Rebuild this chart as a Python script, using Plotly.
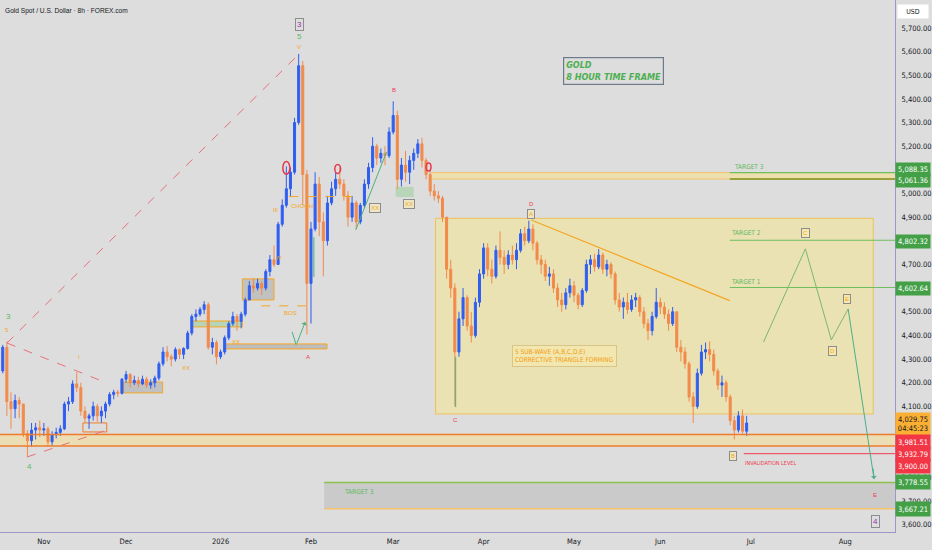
import math
import datetime as dt
import pandas as pd
import plotly.graph_objects as go

# ---------------- data (daily candles) ----------------
dates = pd.bdate_range("2025-10-20", "2026-06-30")
first_open = 4250
high = [4360, 4375, 4160, 4150, 4140, 4110, 4000, 4030, 4030, 4040,
        4030, 4015, 3995, 4010, 4020, 4120, 4140, 4210, 4245, 4200,
        4100, 4070, 4120, 4110, 4100, 4120, 4160, 4170, 4170, 4220,
        4250, 4240, 4230, 4225, 4230, 4225, 4215, 4230, 4290, 4350,
        4355, 4320, 4350, 4345, 4350, 4420, 4490, 4510, 4520, 4545,
        4540, 4390, 4380, 4340, 4400, 4460, 4500, 4490, 4500, 4560,
        4630, 4640, 4640, 4630, 4680, 4740, 4780, 4880, 4975, 5115,
        5110, 5320, 5590, 5560, 5100, 4880, 5090, 5070, 4920, 4990,
        5050, 5090, 5110, 5060, 5010, 4990, 4970, 4960, 5060, 5130,
        5238, 5210, 5190, 5200, 5280, 5390, 5350, 5150, 5180, 5160,
        5190, 5230, 5235, 5150, 5100, 5040, 5010, 4990, 4900, 4720,
        4620, 4500, 4600, 4570, 4500, 4560, 4680, 4790, 4790, 4720,
        4780, 4840, 4760, 4760, 4780, 4790, 4850, 4860, 4885, 4870,
        4800, 4740, 4720, 4690, 4680, 4620, 4580, 4600, 4640, 4630,
        4580, 4600, 4720, 4740, 4745, 4765, 4750, 4720, 4710, 4670,
        4580, 4560, 4580, 4570, 4580, 4570, 4520, 4470, 4500, 4600,
        4560, 4540, 4510, 4520, 4500, 4380, 4350, 4290, 4160, 4260,
        4360, 4370, 4375, 4340, 4260, 4230, 4210, 4150, 4060, 4080,
        4087, 4060]
low = [4240, 4060, 4005, 4050, 4050, 3970, 3888, 3930, 3960, 3970,
       3975, 3930, 3935, 3965, 3975, 4000, 4080, 4110, 4160, 4060,
       4030, 4005, 4040, 4035, 4030, 4050, 4100, 4130, 4140, 4150,
       4200, 4180, 4190, 4180, 4190, 4180, 4175, 4180, 4210, 4270,
       4290, 4270, 4290, 4300, 4300, 4340, 4400, 4460, 4480, 4490,
       4340, 4320, 4278, 4300, 4320, 4380, 4440, 4420, 4430, 4480,
       4550, 4580, 4590, 4570, 4590, 4650, 4690, 4700, 4860, 4940,
       4985, 5080, 5290, 4950, 4404, 4450, 4840, 4820, 4650, 4780,
       4950, 4990, 5020, 4970, 4860, 4880, 4850, 4870, 4940, 5020,
       5090, 5120, 5130, 5120, 5150, 5250, 5020, 5030, 5050, 5040,
       5100, 5150, 5110, 5060, 4990, 4970, 4960, 4880, 4640, 4560,
       4100, 4310, 4440, 4420, 4370, 4390, 4520, 4640, 4650, 4620,
       4640, 4700, 4660, 4680, 4700, 4680, 4750, 4780, 4790, 4760,
       4700, 4660, 4630, 4610, 4580, 4520, 4500, 4510, 4560, 4540,
       4510, 4520, 4580, 4660, 4670, 4680, 4660, 4650, 4640, 4530,
       4500, 4470, 4490, 4500, 4520, 4480, 4430, 4380, 4400, 4470,
       4490, 4470, 4420, 4440, 4330, 4290, 4260, 4120, 4030, 4090,
       4230, 4300, 4290, 4230, 4170, 4140, 4120, 4020, 3960, 3990,
       3985, 3975]
close = [4350, 4120, 4090, 4125, 4110, 3985, 3955, 4000, 4010, 4000,
         4005, 3950, 3980, 3990, 4005, 4110, 4120, 4195, 4180, 4080,
         4050, 4060, 4100, 4060, 4080, 4110, 4150, 4160, 4155, 4215,
         4235, 4200, 4210, 4195, 4215, 4190, 4200, 4220, 4280, 4330,
         4310, 4300, 4340, 4320, 4345, 4410, 4480, 4490, 4510, 4530,
         4350, 4370, 4310, 4330, 4390, 4450, 4480, 4460, 4490, 4550,
         4610, 4600, 4620, 4600, 4670, 4720, 4700, 4870, 4950, 5020,
         5090, 5300, 5540, 5080, 4620, 4850, 5040, 4880, 4800, 4960,
         5020, 5060, 5040, 4990, 4900, 4960, 4880, 4950, 5040, 5110,
         5200, 5150, 5170, 5160, 5260, 5330, 5060, 5120, 5090, 5140,
         5170, 5210, 5140, 5080, 5010, 4990, 4980, 4900, 4680, 4600,
         4330, 4470, 4560, 4440, 4400, 4540, 4660, 4770, 4680, 4650,
         4760, 4730, 4700, 4740, 4720, 4760, 4830, 4800, 4850, 4790,
         4720, 4700, 4650, 4660, 4600, 4550, 4530, 4580, 4610, 4570,
         4530, 4590, 4700, 4720, 4690, 4740, 4680, 4700, 4660, 4550,
         4520, 4540, 4510, 4550, 4560, 4500, 4450, 4420, 4480, 4540,
         4520, 4490, 4450, 4500, 4350, 4330, 4280, 4140, 4100, 4240,
         4330, 4340, 4320, 4250, 4190, 4200, 4140, 4040, 4000, 4060,
         3995, 4029.75]
opens = [first_open] + close[:-1]

# levels drawn on the chart
target3_hi, target3_lo = 5088.35, 5061.36
target2 = 4802.32
target1 = 4602.64
zone_hi, zone_lo = 3981.51, 3932.79
invalidation = 3900.00
low_t3_hi, low_t3_lo = 3778.55, 3667.21
last_price = 4029.75

month_ticks = ["2025-11-03", "2025-12-01", "2026-01-01", "2026-02-02", "2026-03-02",
               "2026-04-01", "2026-05-01", "2026-06-01", "2026-07-01", "2026-08-03"]
month_text = ["Nov", "Dec", "2026", "Feb", "Mar", "Apr", "May", "Jun", "Jul", "Aug"]
price_ticks = [5700, 5600, 5500, 5400, 5300, 5200, 5000, 4900, 4700, 4500, 4400,
               4300, 4200, 4100, 3800, 3700, 3600]

assert len(dates) == len(high) == len(low) == len(close)

# ---------------- style ----------------
BG = "#dddddd"
UP = "#2f5ef0"
DN = "#f28a4a"
RED = "#ef3b4e"
ORANGE = "#f5a623"
GREEN = "#5cb860"
PURPLE = "#9c27b0"
AXIS = "#9b98c8"
NARROW = "Liberation Sans Narrow, DejaVu Sans Condensed, Arial Narrow, sans-serif"
SANS = "Liberation Sans, Arial, sans-serif"

BASE = dt.date(2025, 10, 20)


def tday(i):
    """trading-day index (float) -> timestamp string, weekends skipped"""
    k = math.floor(i)
    f = i - k
    d = BASE
    step = 1 if k >= 0 else -1
    n = abs(k)
    while n:
        d += dt.timedelta(days=step)
        if d.weekday() < 5:
            n -= 1
    t = dt.datetime(d.year, d.month, d.day) + dt.timedelta(hours=24 * f)
    return t.strftime("%Y-%m-%d %H:%M")


X0_I, X1_I = -0.67, 217.1
Y_RANGE = [3569, 5818]

fig = go.Figure(go.Candlestick(
    x=dates, open=opens, high=high, low=low, close=close,
    increasing=dict(line=dict(color=UP, width=1), fillcolor=UP),
    decreasing=dict(line=dict(color=DN, width=1), fillcolor=DN),
    whiskerwidth=0, hoverinfo="skip"))

shapes = []


def rect(i0, i1, p0, p1, fill, line="rgba(0,0,0,0)", lw=1, dash="solid", layer="below"):
    shapes.append(dict(type="rect", xref="x", yref="y", x0=tday(i0), x1=tday(i1), y0=p0, y1=p1,
                       fillcolor=fill, line=dict(color=line, width=lw, dash=dash), layer=layer))


def seg(i0, p0, i1, p1, color, w=1, dash="solid", layer="above"):
    shapes.append(dict(type="line", xref="x", yref="y", x0=tday(i0), x1=tday(i1), y0=p0, y1=p1,
                       line=dict(color=color, width=w, dash=dash), layer=layer))


def ellipse(ic, pc, di, dp, color):
    shapes.append(dict(type="circle", xref="x", yref="y", x0=tday(ic - di), x1=tday(ic + di),
                       y0=pc - dp, y1=pc + dp, line=dict(color=color, width=1.5), layer="above"))


# big corrective-triangle zone
rect(105.3, 211.8, 4068, 4895, "rgba(255,235,110,0.38)", "rgba(240,190,80,0.9)", 1)
# support zone band across chart
rect(X0_I, X1_I, zone_lo, zone_hi, "rgba(255,225,130,0.45)")
seg(X0_I, zone_hi, X1_I, zone_hi, "#f07b2a", 1.5)
seg(X0_I, zone_lo, X1_I, zone_lo, "#f07b2a", 1.5)
# upper target 3 band
rect(104.3, X1_I, target3_lo, target3_hi, "rgba(255,225,130,0.5)")
seg(104.3, target3_hi, X1_I, target3_hi, "#f5c46a", 1)
seg(104.3, target3_lo, X1_I, target3_lo, "#f5c46a", 1)
seg(176.9, target3_hi, X1_I, target3_hi, "#6fbf5f", 1.2)
seg(176.9, target3_lo, X1_I, target3_lo, "#9aa23a", 2)
# targets 2 and 1
seg(176.9, target2, X1_I, target2, "#6fbf5f", 1)
seg(176.9, target1, X1_I, target1, "#6fbf5f", 1)
# invalidation
seg(180.3, invalidation, X1_I, invalidation, RED, 1)
# lower target 3 box
rect(78.2, X1_I, low_t3_lo, low_t3_hi, "rgba(190,190,190,0.6)")
seg(78.2, low_t3_hi, X1_I, low_t3_hi, "#8bc34a", 1.5)
seg(78.2, low_t3_lo, X1_I, low_t3_lo, "#f5c46a", 1.5)

# left structure boxes
rect(29.4, 38.9, 4157, 4203, "rgba(140,140,140,0.35)", ORANGE, 1)
rect(58.3, 66.0, 4550, 4639, "rgba(140,140,140,0.35)", ORANGE, 1)
rect(53.9, 78.9, 4343, 4364, "rgba(150,150,150,0.45)", ORANGE, 1)
rect(45.9, 58.3, 4436, 4461, "rgba(150,205,150,0.55)", ORANGE, 1)
rect(95.6, 100.0, 4985, 5028, "rgba(150,205,150,0.5)", "rgba(0,0,0,0)")
rect(19.5, 25.3, 3992, 4030, "rgba(0,0,0,0)", "#f07b2a", 1)

# trendlines
seg(1.03, 4368, 72.1, 5590, "#e8707a", 1, "dash")
seg(1.03, 4368, 25.3, 4199, "#e8707a", 1, "dash")
seg(5.9, 3886, 25.3, 4000, "#e8707a", 1, "dash")
seg(62.9, 4525, 73.8, 4525, ORANGE, 1, "dash")
seg(69.7, 4987, 85.0, 4987, ORANGE, 1, "dash")
seg(85.9, 4846, 93.4, 5176, "#4cb27a", 1)
seg(75.7, 4816, 75.7, 4647, "#4cb27a", 1)
seg(110.2, 4309, 110.2, 4097, "#4cb27a", 1)
seg(128.6, 4888, 176.9, 4547, ORANGE, 1.2)
seg(70.4, 4415, 71.4, 4360, "#4cb27a", 1)
# projected path
seg(185.1, 4372, 195.3, 4766, "#7cb86a", 1)
seg(195.3, 4766, 201.6, 4381, "#7cb86a", 1)
seg(201.6, 4381, 205.7, 4512, "#7cb86a", 1)
seg(205.7, 4512, 212.0, 3793, "#4caf8a", 1)

ellipse(69.0, 5108, 0.85, 27, "#e53950")
ellipse(81.5, 5104, 0.7, 19, "#e53950")
ellipse(103.6, 5112, 0.6, 17, "#e53950")

annotations = []

# wave / structure labels: (index, price, text, colour, size, boxed)
labels = [
    (72.1, 5713, "3", PURPLE, 8, True),
    (72.1, 5663, "5", GREEN, 8, False),
    (72.1, 5621, "V", ORANGE, 6, False),
    (95.1, 5438, "B", RED, 6, False),
    (110.2, 4042, "C", RED, 6, False),
    (74.3, 4309, "A", RED, 6, False),
    (70.0, 4495, "BOS", ORANGE, 6, False),
    (72.8, 4947, "CHOCH", ORANGE, 6, False),
    (66.3, 4930, "III", ORANGE, 6, False),
    (67.2, 4727, "IV", ORANGE, 6, False),
    (56.8, 4372, "XX", ORANGE, 6, False),
    (90.5, 4939, "XX", ORANGE, 6, True),
    (98.8, 4956, "XX", ORANGE, 6, True),
    (44.7, 4262, "XX", ORANGE, 6, False),
    (18.5, 4309, "I", ORANGE, 6, False),
    (1.0, 4423, "5", ORANGE, 6, False),
    (1.3, 4478, "3", GREEN, 8, False),
    (6.4, 3844, "4", GREEN, 8, False),
    (128.6, 4956, "D", RED, 6, False),
    (128.6, 4913, "A", ORANGE, 6, True),
    (177.6, 3890, "B", ORANGE, 6, True),
    (195.3, 4833, "C", ORANGE, 6, True),
    (202.0, 4334, "D", ORANGE, 6, True),
    (205.5, 4554, "E", ORANGE, 6, True),
    (212.3, 3725, "E", RED, 6, False),
    (212.3, 3615, "4", PURPLE, 8, True),
]
for i, p, t, c, s, boxed in labels:
    a = dict(x=tday(i), y=p, xref="x", yref="y", text=t, showarrow=False,
             font=dict(family=SANS, size=s, color=c))
    if boxed:
        a.update(bordercolor="#8c8c8c", borderwidth=1, borderpad=1,
                 bgcolor="rgba(255,240,170,0.5)" if c == ORANGE else "rgba(0,0,0,0)")
    annotations.append(a)

texts = [
    (86.6, 3738, "TARGET 3", GREEN, 6.5),
    (181.5, 5112, "TARGET 3", GREEN, 6.5),
    (180.8, 4833, "TARGET 2", GREEN, 6.5),
    (180.8, 4626, "TARGET 1", GREEN, 6.5),
    (186.8, 3861, "INVALIDATION LEVEL", RED, 5.5),
]
for i, p, t, c, s in texts:
    annotations.append(dict(x=tday(i), y=p, xref="x", yref="y", text=t, showarrow=False,
                            font=dict(family=NARROW, size=s, color=c)))

# arrowheads
annotations.append(dict(x=tday(212.0), y=3793, xref="x", yref="y", text="", showarrow=True,
                        ax=-1, ay=-12, arrowhead=1, arrowsize=1, arrowwidth=1, arrowcolor="#4caf8a"))
annotations.append(dict(x=tday(73.6), y=4457, xref="x", yref="y", text="", showarrow=True,
                        ax=-9, ay=23, arrowhead=1, arrowsize=1, arrowwidth=1, arrowcolor="#4cb27a"))

# note boxes
annotations.append(dict(x=tday(136.6), y=4313, xref="x", yref="y", showarrow=False, align="left",
                        text="5 SUB-WAVE (A,B,C,D,E)<br>CORRECTIVE TRIANGLE FORMING",
                        font=dict(family=NARROW, size=6.5, color="#f39c12"),
                        bordercolor="#d9c58a", borderwidth=1, borderpad=2,
                        bgcolor="rgba(255,240,170,0.4)"))
annotations.append(dict(x=tday(148.5), y=5516, xref="x", yref="y", showarrow=False, align="left",
                        text="<b><i>GOLD<br>8 HOUR TIME FRAME</i></b>",
                        font=dict(family=NARROW, size=9, color="#4caf50"),
                        bordercolor="#6d7a8a", borderwidth=1.2, borderpad=2))

# title
annotations.append(dict(x=0, y=1, xref="paper", yref="paper", xanchor="left", yanchor="top",
                        xshift=3, yshift=-5, showarrow=False,
                        text="Gold Spot / U.S. Dollar · 8h · FOREX.com",
                        font=dict(family=SANS, size=6.6, color="#131722")))
# USD box
annotations.append(dict(x=1, y=1, xref="paper", yref="paper", xanchor="left", yanchor="top",
                        xshift=2, yshift=-4, showarrow=False, text="USD", width=28, height=11,
                        bgcolor="#ffffff", font=dict(family=NARROW, size=7, color="#131722")))

# price tags on axis: (price, text, background, font colour, yshift, height)
tags = [
    (target3_hi, f"{target3_hi:,.2f}", "#43a047", "white", 3, 11),
    (target3_lo, f"{target3_lo:,.2f}", "#43a047", "white", -2, 11),
    (target2, f"{target2:,.2f}", "#43a047", "white", -1, 11),
    (target1, f"{target1:,.2f}", "#43a047", "white", -1, 11),
    (last_price, f"{last_price:,.2f}<br>04:45:23", "#fbb034", "#131722", -1, 20),
    (zone_hi, f"{zone_hi:,.2f}", "#f23645", "white", -8, 12),
    (zone_lo, f"{zone_lo:,.2f}", "#f23645", "white", -8, 12),
    (invalidation, f"{invalidation:,.2f}", "#f23645", "white", -12, 12),
    (low_t3_hi, f"{low_t3_hi:,.2f}", "#43a047", "white", 0, 12),
    (low_t3_lo, f"{low_t3_lo:,.2f}", "#43a047", "white", 0, 12),
]
for p, t, bg, fc, ys, h in tags:
    annotations.append(dict(x=1, y=p, xref="paper", yref="y", xanchor="left", yanchor="middle",
                            xshift=0, yshift=ys, showarrow=False, text=t, width=32, height=h,
                            bgcolor=bg, font=dict(family=NARROW, size=7.5, color=fc)))

fig.update_layout(
    width=932, height=550,
    margin=dict(l=0, r=34, t=0, b=18),
    paper_bgcolor=BG, plot_bgcolor=BG,
    showlegend=False, hovermode=False,
    shapes=shapes, annotations=annotations,
    xaxis=dict(type="date", range=[tday(X0_I), tday(X1_I)],
               rangebreaks=[dict(bounds=["sat", "mon"])],
               rangeslider=dict(visible=False),
               tickvals=month_ticks, ticktext=month_text,
               showgrid=False, zeroline=False, showline=True, linecolor=AXIS, linewidth=1,
               ticks="outside", ticklen=2, tickcolor=BG,
               tickfont=dict(family=NARROW, size=7.5, color="#131722")),
    yaxis=dict(side="right", range=Y_RANGE, tickvals=price_ticks,
               ticktext=[f"{v:,.2f}" for v in price_ticks],
               showgrid=False, zeroline=False, showline=True, linecolor=AXIS, linewidth=1,
               ticks="outside", ticklen=4, tickcolor=BG,
               tickfont=dict(family=NARROW, size=7.5, color="#131722")),
)

fig.write_html("out.html", config={"displayModeBar": False},
               post_script="document.body.style.margin='0';document.body.style.overflow='hidden';")
